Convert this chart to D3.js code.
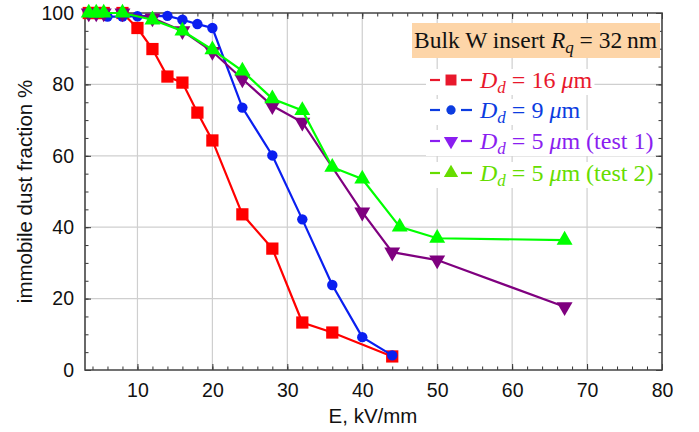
<!DOCTYPE html>
<html>
<head>
<meta charset="utf-8">
<script src="https://cdn.jsdelivr.net/npm/d3@7"></script>
<style>
  body { margin: 0; background: #fff; }
  svg { display: block; }
</style>
</head>
<body>
<svg id="chart"></svg>
<script>
// data
const xRed = [3.5, 4.5, 5.5, 8, 10, 12, 14, 16, 18, 20, 24, 28, 32, 36, 44];
const yRed = [100, 100, 100, 100, 95.8, 89.9, 82.2, 80.5, 72.1, 64.3, 43.6, 34, 13.3, 10.5, 3.8];
const xBlue = [3.5, 4.5, 6, 8, 10, 14, 16, 18, 20, 24, 28, 32, 36, 40, 44];
const yBlue = [100, 100, 99, 99, 99.1, 99.2, 98.1, 96.9, 95.8, 73.5, 60.1, 42.2, 23.8, 9.2, 4.1];
const xPurple = [3.5, 4.5, 5.5, 8, 12, 16, 20, 24, 28, 32, 40, 44, 50, 67];
const yPurple = [100, 100, 100, 100, 98.6, 95, 89.2, 81.5, 74, 69.4, 44.2, 33, 30.8, 17.7];
const xGreen = [3.5, 4.5, 5.5, 8, 12, 16, 20, 24, 28, 32, 36, 40, 45, 50, 67];
const yGreen = [100, 100, 100, 100, 98.1, 95, 89.7, 83.8, 76, 72.7, 56.8, 53.5, 40.1, 36.9, 36.4];

const seriesNames = ['16', '9', '5', '5'];
const seriesNotes = ['', '', ' (test 1)', ' (test 2)'];
const xTicks = [10, 20, 30, 40, 50, 60, 70, 80];
const yTicks = [0, 20, 40, 60, 80, 100];

const W = 699, H = 432;
const margin = {top: 13, right: 37, bottom: 62, left: 85};
const width = W - margin.left - margin.right;
const height = H - margin.top - margin.bottom;

const svg = d3.select('#chart').attr('width', W).attr('height', H);
const g = svg.append('g').attr('transform', 'translate(' + margin.left + ',' + margin.top + ')');

const x = d3.scaleLinear().domain([3, 80]).range([0, width]);
const y = d3.scaleLinear().domain([0, 100]).range([height, 0]);

// grid
g.append('g').selectAll('line').data(xTicks.filter(d => d < 80)).enter().append('line')
  .attr('x1', d => x(d)).attr('x2', d => x(d)).attr('y1', 0).attr('y2', height)
  .attr('stroke', '#cfcfcf').attr('stroke-width', 1.2);
g.append('g').selectAll('line').data(yTicks.filter(d => d > 0 && d < 100)).enter().append('line')
  .attr('x1', 0).attr('x2', width).attr('y1', d => y(d)).attr('y2', d => y(d))
  .attr('stroke', '#cfcfcf').attr('stroke-width', 1.2);

// axes (ticks inward on all sides)
const xMinor = d3.range(4, 81, 2);
const yMinor = d3.range(0, 101, 5);
const axisFont = 'Liberation Sans, Arial, sans-serif';

function styleAxis(sel) {
  sel.select('.domain').remove();
  sel.selectAll('.tick line').attr('stroke', '#333').attr('stroke-width', 1);
  sel.selectAll('.tick text').attr('fill', '#111').style('font-family', axisFont).style('font-size', '19.5px');
}

g.append('g').attr('transform', 'translate(0,' + height + ')')
  .call(d3.axisBottom(x).tickValues(xMinor).tickSize(-3.5).tickFormat(''))
  .call(styleAxis);
g.append('g').attr('transform', 'translate(0,' + height + ')')
  .call(d3.axisBottom(x).tickValues(xTicks).tickSize(-6).tickPadding(13))
  .call(styleAxis);
g.append('g')
  .call(d3.axisTop(x).tickValues(xMinor).tickSize(-3.5).tickFormat(''))
  .call(styleAxis);
g.append('g')
  .call(d3.axisTop(x).tickValues(xTicks).tickSize(-6).tickFormat(''))
  .call(styleAxis);
g.append('g')
  .call(d3.axisLeft(y).tickValues(yMinor).tickSize(-3.5).tickFormat(''))
  .call(styleAxis);
g.append('g')
  .call(d3.axisLeft(y).tickValues(yTicks).tickSize(-6).tickPadding(11))
  .call(styleAxis);
g.append('g').attr('transform', 'translate(' + width + ',0)')
  .call(d3.axisRight(y).tickValues(yMinor).tickSize(-3.5).tickFormat(''))
  .call(styleAxis);
g.append('g').attr('transform', 'translate(' + width + ',0)')
  .call(d3.axisRight(y).tickValues(yTicks).tickSize(-6).tickFormat(''))
  .call(styleAxis);

// frame
g.append('path')
  .attr('d', 'M0,0V' + height + 'H' + width + 'V0Z')
  .attr('fill', 'none').attr('stroke', '#444').attr('stroke-width', 1.6);

// axis titles
svg.append('text')
  .attr('x', 373).attr('y', 423)
  .attr('text-anchor', 'middle')
  .style('font-family', axisFont).style('font-size', '20.5px').attr('fill', '#111')
  .text('E, kV/mm');
svg.append('text')
  .attr('transform', 'translate(32,' + (margin.top + height / 2) + ') rotate(-90)')
  .attr('text-anchor', 'middle')
  .style('font-family', axisFont).style('font-size', '20.5px').attr('fill', '#111')
  .text('immobile dust fraction %');

// series
const series = [
  {xs: xRed, ys: yRed, color: '#ff0000', legend: '#e8182c', sym: d3.symbolSquare, size: 150, rot: 0},
  {xs: xBlue, ys: yBlue, color: '#0a1ff0', legend: '#0c3ce0', sym: d3.symbolCircle, size: 85, rot: 0},
  {xs: xPurple, ys: yPurple, color: '#7f007f', legend: '#8a1ef0', sym: d3.symbolTriangle, size: 110, rot: 180},
  {xs: xGreen, ys: yGreen, color: '#00ff00', legend: '#66dd00', sym: d3.symbolTriangle, size: 110, rot: 0}
];

const line = d3.line().x(d => x(d[0])).y(d => y(d[1]));

series.forEach(s => {
  const pts = s.xs.map((v, i) => [v, s.ys[i]]);
  g.append('path').datum(pts)
    .attr('fill', 'none').attr('stroke', s.color).attr('stroke-width', 2.2)
    .attr('d', line);
  g.append('g').selectAll('path').data(pts).enter().append('path')
    .attr('d', d3.symbol().type(s.sym).size(s.size))
    .attr('transform', d => 'translate(' + x(d[0]) + ',' + y(d[1]) + ') rotate(' + s.rot + ')')
    .attr('fill', s.color);
});

// legend
const serif = 'Liberation Serif, Times New Roman, serif';
svg.append('rect').attr('x', 412).attr('y', 23).attr('width', 248).attr('height', 35).attr('fill', '#fdd5a8');
const title = svg.append('text').attr('x', 414).attr('y', 48)
  .style('font-family', serif).style('font-size', '23.5px').attr('fill', '#111');
title.append('tspan').text('Bulk W insert ');
title.append('tspan').attr('font-style', 'italic').text('R');
title.append('tspan').attr('font-style', 'italic').attr('font-size', '17px').attr('dy', 5).text('q');
title.append('tspan').attr('dy', -5).text(' = 32\u2009nm');

const rowY = [80, 110, 141, 173];
series.forEach((s, i) => {
  const cy = rowY[i];
  const lg = svg.append('g');
  const bg = lg.append('rect').attr('fill', '#fff');
  lg.append('line').attr('x1', 430).attr('x2', 440).attr('y1', cy).attr('y2', cy)
    .attr('stroke', s.legend).attr('stroke-width', 2.2);
  lg.append('line').attr('x1', 461).attr('x2', 472).attr('y1', cy).attr('y2', cy)
    .attr('stroke', s.legend).attr('stroke-width', 2.2);
  lg.append('path')
    .attr('d', d3.symbol().type(s.sym).size(s.size * 0.8))
    .attr('transform', 'translate(451,' + cy + ') rotate(' + s.rot + ')')
    .attr('fill', s.legend);
  const t = lg.append('text').attr('x', 480).attr('y', cy + 8)
    .style('font-family', serif).style('font-size', '24px').attr('fill', s.legend);
  t.append('tspan').attr('font-style', 'italic').text('D');
  t.append('tspan').attr('font-style', 'italic').attr('font-size', '17px').attr('dy', 5).text('d');
  t.append('tspan').attr('dy', -5).text(' = ' + seriesNames[i] + ' ');
  t.append('tspan').attr('font-style', 'italic').text('\u03bc');
  t.append('tspan').text('m' + seriesNotes[i]);
  const bb = t.node().getBBox();
  bg.attr('x', 426).attr('y', bb.y + 2).attr('width', bb.x + bb.width - 426 + 2).attr('height', bb.height - 4);
});
</script>
</body>
</html>
